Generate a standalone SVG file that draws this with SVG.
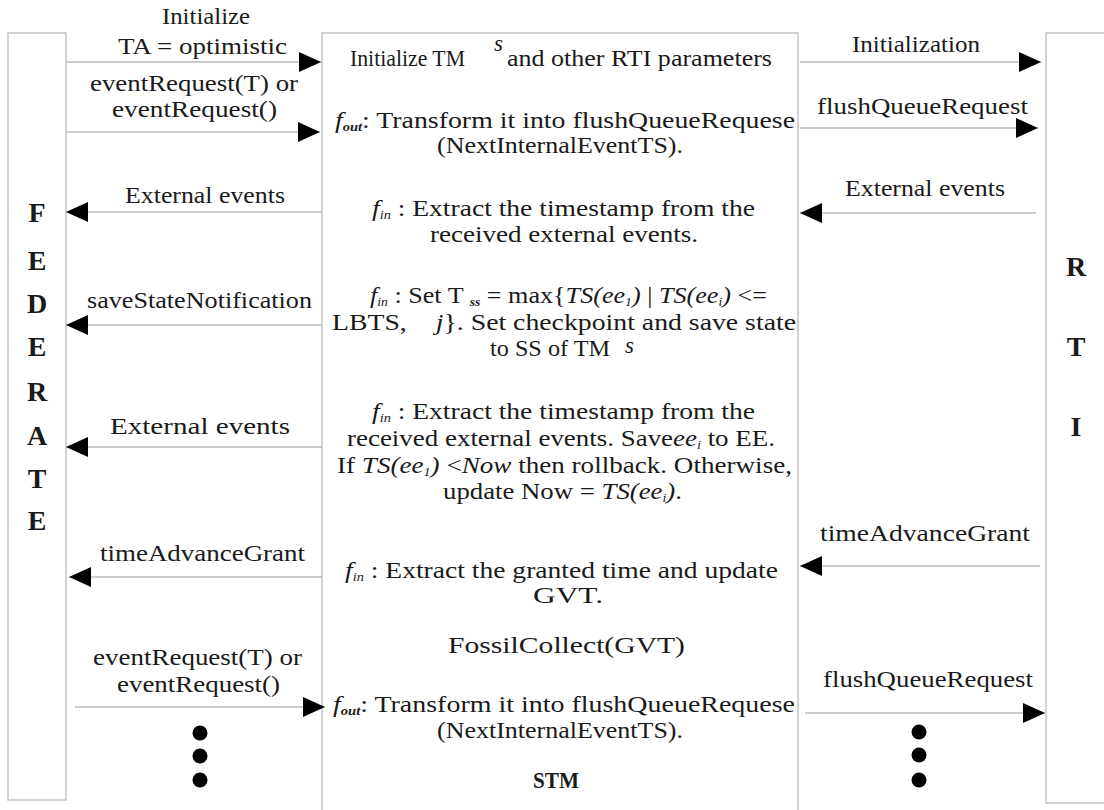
<svg xmlns="http://www.w3.org/2000/svg" width="1104" height="810" viewBox="0 0 1104 810">
<defs>
<style>
text{font-size:23px;fill:#1a1a1a;}
.box{fill:#fff;stroke:#c4c4c4;stroke-width:1.5;}
.ln{stroke:#bdbdbd;stroke-width:1.5;fill:none;marker-end:url(#ah);}
.big{font-weight:bold;font-size:28px;text-anchor:middle;}
.i{font-style:italic;}
.sub{font-style:italic;font-size:12px;}
.dot{fill:#000;}
</style>
<marker id="ah" markerUnits="userSpaceOnUse" markerWidth="22" markerHeight="20" refX="22" refY="10" orient="auto">
<path d="M0,0 L22,10 L0,20 Z" fill="#000"/>
</marker>
</defs>
<rect width="1104" height="810" fill="#fff"/>
<g font-family="'Liberation Serif', 'Times New Roman', serif">
<g id="federate">
<rect class="box" x="8" y="33" width="58" height="767"/>
<text class="big" x="37" y="222">F</text>
<text class="big" x="37" y="270">E</text>
<text class="big" x="37" y="313">D</text>
<text class="big" x="37" y="356">E</text>
<text class="big" x="37" y="401">R</text>
<text class="big" x="37" y="445">A</text>
<text class="big" x="37" y="488">T</text>
<text class="big" x="37" y="530">E</text>
</g>

<g id="rti">
<rect class="box" x="1046" y="33" width="70" height="770"/>
<text class="big" x="1076" y="276">R</text>
<text class="big" x="1076" y="356">T</text>
<text class="big" x="1076" y="436">I</text>
</g>

<g id="stm">
<rect class="box" x="322" y="33" width="476" height="800"/>
<text x="350" y="66" textLength="115" lengthAdjust="spacingAndGlyphs">Initialize TM</text>
<text class="i" x="494" y="51" font-size="17">s</text>
<text x="507" y="66" textLength="265" lengthAdjust="spacingAndGlyphs">and other RTI parameters</text>

<text x="335" y="128" textLength="460" lengthAdjust="spacingAndGlyphs"><tspan class="i">f</tspan><tspan class="sub" font-weight="bold" dy="3">out</tspan><tspan dy="-3">: Transform it into flushQueueRequese</tspan></text>
<text x="437" y="153" textLength="246" lengthAdjust="spacingAndGlyphs">(NextInternalEventTS).</text>

<text x="372" y="216" textLength="383" lengthAdjust="spacingAndGlyphs"><tspan class="i">f</tspan><tspan class="sub" dy="3">in</tspan><tspan dy="-3"> : Extract the timestamp from the</tspan></text>
<text x="430" y="242" textLength="268" lengthAdjust="spacingAndGlyphs">received external events.</text>

<text x="370" y="303" textLength="397" lengthAdjust="spacingAndGlyphs"><tspan class="i">f</tspan><tspan class="sub" dy="3">in</tspan><tspan dy="-3"> : Set T </tspan><tspan class="sub" font-weight="bold" dy="3">ss</tspan><tspan dy="-3"> = max{</tspan><tspan class="i">TS(ee</tspan><tspan class="sub" dy="3">1</tspan><tspan class="i" dy="-3">)</tspan><tspan> | </tspan><tspan class="i">TS(ee</tspan><tspan class="sub" dy="3">i</tspan><tspan class="i" dy="-3">)</tspan><tspan> &lt;=</tspan></text>
<text x="332" y="330" textLength="464" lengthAdjust="spacingAndGlyphs">LBTS,<tspan class="i" dx="24">j</tspan>}. Set checkpoint and save state</text>
<text x="490" y="356" textLength="120" lengthAdjust="spacingAndGlyphs">to SS of TM</text>
<text class="i" x="625" y="353" font-size="14">s</text>

<text x="372" y="419" textLength="383" lengthAdjust="spacingAndGlyphs"><tspan class="i">f</tspan><tspan class="sub" dy="3">in</tspan><tspan dy="-3"> : Extract the timestamp from the</tspan></text>
<text x="347" y="446" textLength="428" lengthAdjust="spacingAndGlyphs">received external events. Save<tspan class="i">ee</tspan><tspan class="sub" dy="3">i</tspan><tspan dy="-3"> to EE.</tspan></text>
<text x="337" y="473" textLength="455" lengthAdjust="spacingAndGlyphs">If <tspan class="i">TS(ee</tspan><tspan class="sub" dy="3">1</tspan><tspan class="i" dy="-3">)</tspan> &lt;<tspan class="i">Now</tspan> then rollback. Otherwise,</text>
<text x="443" y="499" textLength="239" lengthAdjust="spacingAndGlyphs">update Now = <tspan class="i">TS(ee</tspan><tspan class="sub" dy="3">i</tspan><tspan class="i" dy="-3">)</tspan>.</text>

<text x="345" y="578" textLength="433" lengthAdjust="spacingAndGlyphs"><tspan class="i">f</tspan><tspan class="sub" dy="3">in</tspan><tspan dy="-3"> : Extract the granted time and update</tspan></text>
<text x="533" y="603" textLength="70" lengthAdjust="spacingAndGlyphs">GVT.</text>

<text x="448" y="653" textLength="237" lengthAdjust="spacingAndGlyphs">FossilCollect(GVT)</text>

<text x="333" y="712" textLength="462" lengthAdjust="spacingAndGlyphs"><tspan class="i">f</tspan><tspan class="sub" font-weight="bold" dy="3">out</tspan><tspan dy="-3">: Transform it into flushQueueRequese</tspan></text>
<text x="437" y="738" textLength="246" lengthAdjust="spacingAndGlyphs">(NextInternalEventTS).</text>

<text x="533" y="788" font-weight="bold" font-size="22" textLength="46" lengthAdjust="spacingAndGlyphs">STM</text>
</g>

<g id="connectors">
<line class="ln" x1="66" y1="62" x2="321" y2="62"/>
<line class="ln" x1="66" y1="132" x2="320" y2="132"/>
<line class="ln" x1="800" y1="62" x2="1041" y2="62"/>
<line class="ln" x1="800" y1="128" x2="1038" y2="128"/>
<line class="ln" x1="322" y1="212" x2="66" y2="212"/>
<line class="ln" x1="1036" y1="213" x2="800" y2="213"/>
<line class="ln" x1="322" y1="325" x2="66" y2="325"/>
<line class="ln" x1="322" y1="447" x2="66" y2="447"/>
<line class="ln" x1="322" y1="577" x2="69" y2="577"/>
<line class="ln" x1="1040" y1="566" x2="800" y2="566"/>
<line class="ln" x1="75" y1="707" x2="325" y2="707"/>
<line class="ln" x1="805" y1="713" x2="1045" y2="713"/>

<text x="162" y="24" textLength="88" lengthAdjust="spacingAndGlyphs">Initialize</text>
<text x="118" y="54" textLength="169" lengthAdjust="spacingAndGlyphs">TA = optimistic</text>
<text x="90" y="91" textLength="208" lengthAdjust="spacingAndGlyphs">eventRequest(T) or</text>
<text x="112" y="117" textLength="165" lengthAdjust="spacingAndGlyphs">eventRequest()</text>
<text x="125" y="203" textLength="160" lengthAdjust="spacingAndGlyphs">External events</text>
<text x="87" y="308" textLength="225" lengthAdjust="spacingAndGlyphs">saveStateNotification</text>
<text x="110" y="434" font-size="25" textLength="180" lengthAdjust="spacingAndGlyphs">External events</text>
<text x="100" y="561" textLength="205" lengthAdjust="spacingAndGlyphs">timeAdvanceGrant</text>
<text x="93" y="665" textLength="209" lengthAdjust="spacingAndGlyphs">eventRequest(T) or</text>
<text x="117" y="692" textLength="163" lengthAdjust="spacingAndGlyphs">eventRequest()</text>

<text x="852" y="52" textLength="128" lengthAdjust="spacingAndGlyphs">Initialization</text>
<text x="817" y="114" textLength="211" lengthAdjust="spacingAndGlyphs">flushQueueRequest</text>
<text x="845" y="196" textLength="160" lengthAdjust="spacingAndGlyphs">External events</text>
<text x="820" y="541" textLength="210" lengthAdjust="spacingAndGlyphs">timeAdvanceGrant</text>
<text x="823" y="687" textLength="210" lengthAdjust="spacingAndGlyphs">flushQueueRequest</text>

<circle class="dot" cx="200" cy="733" r="7.5"/>
<circle class="dot" cx="200" cy="756" r="7.5"/>
<circle class="dot" cx="200" cy="780" r="7.5"/>
<circle class="dot" cx="919" cy="732" r="7.5"/>
<circle class="dot" cx="919" cy="755" r="7.5"/>
<circle class="dot" cx="919" cy="780" r="7.5"/>
</g>
</g>
</svg>
